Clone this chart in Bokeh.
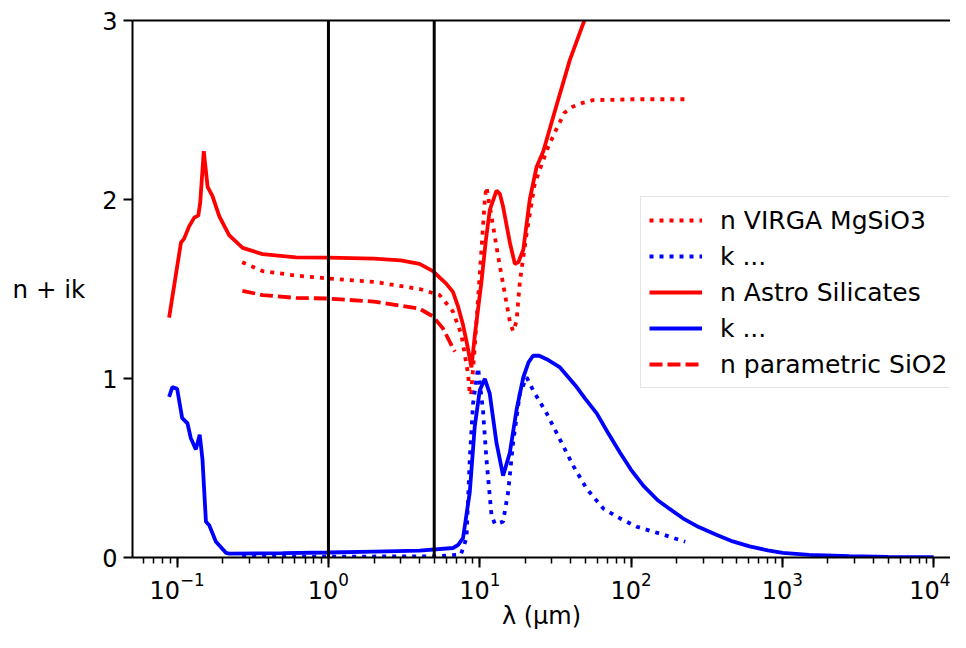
from bokeh.plotting import figure
from bokeh.models import Span, Legend, LegendItem, LinearAxis, FixedTicker, Range1d
from bokeh.embed import file_html
from bokeh.resources import INLINE

# ---- data ----
wl_astro = [0.0885, 0.106, 0.111, 0.120, 0.130, 0.138, 0.142, 0.150, 0.159, 0.171, 0.190, 0.221,
            0.271, 0.367, 0.61, 1.0, 2.0, 3.0, 4.0, 4.9, 6.0, 6.65, 7.2, 7.75, 8.3, 8.81, 9.3,
            10.26, 11.0, 11.64, 12.9, 13.6, 14.26, 15.8, 17.06, 18.0, 19.4, 21.4, 23.7, 26.3,
            32.0, 39.4, 49.6, 70.0, 100.0, 1000.0, 10000.0]
n_astro = [1.34, 1.76, 1.78, 1.85, 1.90, 1.91, 1.98, 2.27, 2.07, 2.02, 1.906, 1.80,
           1.73, 1.695, 1.677, 1.675, 1.67, 1.66, 1.64, 1.60, 1.53, 1.484, 1.40, 1.30, 1.18, 1.062, 1.25,
           1.54, 1.78, 1.94, 2.05, 2.03, 1.96, 1.76, 1.64, 1.65, 1.72, 2.0, 2.18, 2.27,
           2.52, 2.78, 3.01, 3.25, 3.45, 3.8, 3.9]

wl_k_astro = [0.0885, 0.093, 0.1, 0.108, 0.117, 0.123, 0.133, 0.141, 0.147, 0.155, 0.163, 0.18,
              0.21, 0.221, 0.5, 1.0, 2.0, 4.0, 6.65, 7.2, 7.75, 8.59, 9.26, 10.0, 10.8, 11.64,
              12.9, 14.26, 15.8, 17.5, 19.4, 21.0, 22.5, 24.5, 27.7, 33.9, 43.7, 50.0, 59.3, 70.0,
              84.6, 100.0, 120.8, 150.0, 181.0, 220.0, 280.0, 366.0, 470.0, 607.0, 800.0, 1007.0,
              1500.0, 2790.0, 5000.0, 10000.0]
k_astro = [0.897, 0.952, 0.943, 0.778, 0.75, 0.668, 0.604, 0.686, 0.549, 0.20, 0.18, 0.09,
           0.026, 0.022, 0.024, 0.028, 0.033, 0.038, 0.053, 0.07, 0.108, 0.365, 0.73, 0.934, 0.998, 0.915,
           0.64, 0.457, 0.585, 0.824, 1.007, 1.09, 1.127, 1.128, 1.108, 1.062, 0.952, 0.885, 0.805, 0.70,
           0.585, 0.49, 0.40, 0.32, 0.27, 0.219, 0.17, 0.127, 0.09, 0.062, 0.04, 0.026,
           0.015, 0.007, 0.004, 0.002]

wl_virga = [0.269, 0.367, 0.61, 0.965, 2.0, 4.0, 5.43, 6.65, 7.56, 8.37, 8.59, 8.75, 9.26, 9.75,
            10.26, 10.8, 11.07, 11.95, 13.2, 14.6, 15.8, 16.6, 17.5, 18.4, 20.4, 23.1, 25.5,
            28.2, 32.0, 36.3, 41.5, 48.0, 56.0, 76.0, 103.0, 228.0]
n_virga = [1.65, 1.60, 1.575, 1.56, 1.54, 1.50, 1.466, 1.374, 1.245, 1.025, 0.915, 0.906, 1.17, 1.45,
           1.72, 2.0, 2.07, 1.906, 1.686, 1.48, 1.32, 1.264, 1.32, 1.54, 1.81, 2.09, 2.19,
           2.29, 2.39, 2.485, 2.52, 2.54, 2.555, 2.557, 2.56, 2.56]

wl_k_virga = [0.269, 1.0, 5.0, 7.5, 8.17, 8.59, 9.03, 9.75, 10.5, 11.07, 11.95, 12.6, 14.26, 15.4,
              16.6, 18.4, 20.4, 22.5, 27.7, 33.9, 41.5, 50.9, 65.6, 84.6, 109.0, 139.0, 164.0, 228.0]
k_virga = [0.004, 0.005, 0.006, 0.016, 0.108, 0.55, 0.86, 1.06, 0.824, 0.549, 0.237, 0.187, 0.2, 0.365,
           0.64, 0.915, 1.007, 0.934, 0.805, 0.659, 0.512, 0.384, 0.273, 0.218, 0.172, 0.145, 0.127, 0.088]

wl_param = [0.27, 0.367, 0.61, 0.965, 2.0, 4.0, 4.9, 5.71, 6.65, 6.85]
n_param = [1.49, 1.466, 1.45, 1.447, 1.43, 1.39, 1.347, 1.28, 1.17, 1.15]

vlines = [1.0, 5.0]

legend_labels = ["n VIRGA MgSiO3", "k ...", "n Astro Silicates", "k ...", "n parametric SiO2"]
y_ticks = [0, 1, 2, 3]
x_label = "λ (μm)"
y_label = "n + ik"

FONT = "DejaVu Sans"
RED = "#ff0000"
BLUE = "#0000ff"
LW = 3.8

p = figure(width=950, height=632, x_axis_type="log",
           x_range=Range1d(10 ** -1.295, 10 ** 4.111), y_range=Range1d(0, 3),
           output_backend="svg", toolbar_location=None,
           min_border_left=132, min_border_top=20, min_border_right=0, min_border_bottom=69)

p.grid.visible = False
p.outline_line_color = None
p.background_fill_color = "white"
p.border_fill_color = "white"

# x axis
xa = p.xaxis[0]
xa.axis_label = x_label
xa.axis_label_text_font = FONT
xa.axis_label_text_font_size = "24px"
xa.axis_label_text_font_style = "normal"
xa.axis_label_text_color = "black"
xa.axis_label_standoff = 0
xa.major_label_text_font = FONT
xa.major_label_text_font_size = "24px"
xa.major_label_text_color = "black"
xa.major_label_standoff = 4
xa.axis_line_color = "black"
xa.axis_line_width = 2
xa.major_tick_line_color = "black"
xa.major_tick_line_width = 2
xa.major_tick_out = 10
xa.major_tick_in = 0
xa.minor_tick_line_color = "black"
xa.minor_tick_line_width = 1.5
xa.minor_tick_out = 6
xa.minor_tick_in = 0

# y axis
ya = p.yaxis[0]
ya.ticker = FixedTicker(ticks=y_ticks)
ya.axis_label = y_label
ya.axis_label_orientation = "horizontal"
ya.axis_label_text_font = FONT
ya.axis_label_text_font_size = "24.5px"
ya.axis_label_text_font_style = "normal"
ya.axis_label_text_color = "black"
ya.axis_label_standoff = 14
ya.major_label_text_font = FONT
ya.major_label_text_font_size = "24px"
ya.major_label_text_color = "black"
ya.major_label_standoff = 6
ya.axis_line_color = "black"
ya.axis_line_width = 2
ya.major_tick_line_color = "black"
ya.major_tick_line_width = 2
ya.major_tick_out = 9
ya.major_tick_in = 0
ya.minor_tick_line_color = None

# top spine only
top = LinearAxis(ticker=FixedTicker(ticks=[]), major_label_text_font_size="0px",
                 axis_line_color="black", axis_line_width=2,
                 major_tick_line_color=None, minor_tick_line_color=None)
p.add_layout(top, "above")

# vertical reference lines
for v in vlines:
    p.add_layout(Span(location=v, dimension="height", line_color="black", line_width=3))

r_nv = p.line(wl_virga, n_virga, line_color=RED, line_width=LW, line_dash="4 6")
r_kv = p.line(wl_k_virga, k_virga, line_color=BLUE, line_width=LW, line_dash="4 6")
r_na = p.line(wl_astro, n_astro, line_color=RED, line_width=LW)
r_ka = p.line(wl_k_astro, k_astro, line_color=BLUE, line_width=LW)
r_np = p.line(wl_param, n_param, line_color=RED, line_width=LW, line_dash="13 5")

items = [LegendItem(label=lab, renderers=[r]) for lab, r in
         zip(legend_labels, [r_nv, r_kv, r_na, r_ka, r_np])]
legend = Legend(items=items, location=(508, 169))
legend.label_text_font = FONT
legend.label_text_font_size = "25px"
legend.label_text_color = "black"
legend.label_height = 30
legend.glyph_height = 30
legend.glyph_width = 53
legend.spacing = 6
legend.padding = 8
legend.margin = 0
legend.label_standoff = 18
legend.border_line_color = "#cccccc"
legend.border_line_width = 1.5
legend.background_fill_color = "white"
legend.background_fill_alpha = 0.85
p.add_layout(legend, "center")

open("out.html", "w").write(file_html(p, INLINE))
